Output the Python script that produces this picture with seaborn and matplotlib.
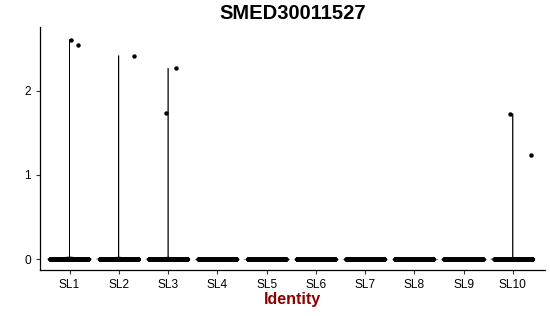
import numpy as np
import pandas as pd
import matplotlib
matplotlib.use("Agg")
import matplotlib.pyplot as plt
import seaborn as sns

# ---- data ----
clusters = ["SL1", "SL2", "SL3", "SL4", "SL5", "SL6", "SL7", "SL8", "SL9", "SL10"]
n_zero = [320, 300, 280, 300, 290, 280, 300, 270, 250, 220]
nonzero = {
    "SL1": [2.61, 2.55],
    "SL2": [2.42],
    "SL3": [2.27, 1.74],
    "SL10": [1.73, 1.24],
}
title = "SMED30011527"
xlabel = "Identity"
yticks = [0, 1, 2]

rows = []
for c, nz in zip(clusters, n_zero):
    vals = list(nonzero.get(c, [])) + [0.0] * nz
    rows += [(c, v) for v in vals]
df = pd.DataFrame(rows, columns=["ident", "expr"])
df["ident"] = pd.Categorical(df["ident"], categories=clusters, ordered=True)

sns.set_theme(style="ticks")
plt.rcParams["font.family"] = ["Liberation Sans", "DejaVu Sans"]

fig = plt.figure(figsize=(5.5, 3.16), dpi=100)
ax = fig.add_axes([0.0727, 0.1456, 0.918, 0.769])

np.random.seed(3)
sns.violinplot(data=df, x="ident", y="expr", order=clusters, density_norm="width",
               cut=0, inner=None, fill=False, color="black", linewidth=0.45,
               bw_adjust=0.05, width=0.9, ax=ax)
sns.stripplot(data=df, x="ident", y="expr", order=clusters, jitter=0.39,
              size=3.2, color="black", linewidth=0, ax=ax)

ax.set_xlim(-0.6, 9.65)
ax.set_ylim(-0.13, 2.76)
ax.set_yticks(yticks)
ax.set_yticklabels([str(t) for t in yticks])
ax.set_ylabel("")
ax.set_xlabel(xlabel, fontsize=11.5, fontweight="bold", color="#8B0000", labelpad=1)
ax.set_title(title, fontsize=14.5, fontweight="bold", pad=6, color="black")
ax.tick_params(axis="both", labelsize=8.6, colors="#333333", length=3, width=0.8,
               labelcolor="black")
for s in ["top", "right"]:
    ax.spines[s].set_visible(False)
for s in ["left", "bottom"]:
    ax.spines[s].set_color("black")
    ax.spines[s].set_linewidth(0.9)

fig.savefig("out.png", dpi=100)
